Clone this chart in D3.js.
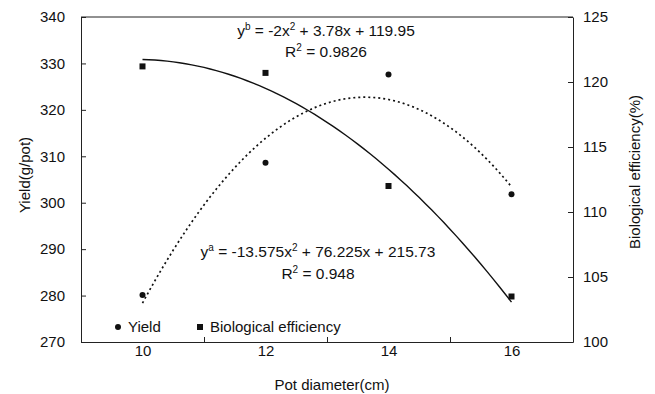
<!DOCTYPE html>
<html><head><meta charset="utf-8">
<script src="https://cdn.jsdelivr.net/npm/d3@7"></script>
<style>body{margin:0;background:#fff} text{font-family:"Liberation Sans",Arial,sans-serif;fill:#111}</style>
</head><body><svg id="c" width="655" height="394"></svg>
<script>
const diameters = [10, 12, 14, 16];
const yieldValues = [280.1, 308.6, 327.6, 301.8];
const bioEfficiency = [121.2, 120.7, 112.0, 103.5];
// trendline coefficients as printed on the chart (x = category index 1..4)
const yieldFit = [-13.575, 76.225, 215.73];
const bioFit = [-2, 3.78, 119.95];
const xLabels = [10, 12, 14, 16];
const xTickMarks = [9, 11, 13, 15, 17];
const leftTicks = [270, 280, 290, 300, 310, 320, 330, 340];
const rightTicks = [100, 105, 110, 115, 120, 125];

const svg = d3.select("#c");
const W = 655, H = 394;
const L = 81, R = 573, T = 17, B = 342;
const FS = 15;

const x = d3.scaleLinear().domain([9, 17]).range([L, R]);
const yL = d3.scaleLinear().domain([270, 340]).range([B, T]);
const yR = d3.scaleLinear().domain([100, 125]).range([B, T]);

svg.append("rect").attr("width", W).attr("height", H).attr("fill", "#fff");

// frame top
svg.append("line").attr("x1", L).attr("x2", R).attr("y1", T).attr("y2", T).attr("stroke", "#222").attr("stroke-width", 1);

function styleAxis(g) {
  g.selectAll("path.domain").attr("stroke", "#222");
  g.selectAll(".tick line").attr("stroke", "#222");
  g.selectAll("text").attr("font-size", FS).attr("font-family", '"Liberation Sans",Arial,sans-serif').attr("fill", "#111");
}

const gl = svg.append("g").attr("transform", `translate(${L},0)`)
  .call(d3.axisLeft(yL).tickValues(leftTicks).tickSizeInner(-5).tickSizeOuter(0).tickPadding(16).tickFormat(d3.format("d")));
styleAxis(gl);

const gr = svg.append("g").attr("transform", `translate(${R},0)`)
  .call(d3.axisRight(yR).tickValues(rightTicks).tickSizeInner(-5).tickSizeOuter(0).tickPadding(10).tickFormat(d3.format("d")));
styleAxis(gr);

const gb = svg.append("g").attr("transform", `translate(0,${B})`)
  .call(d3.axisBottom(x).tickValues(xTickMarks).tickSizeInner(-5).tickSizeOuter(0).tickFormat(""));
styleAxis(gb);

const gb2 = svg.append("g").attr("transform", `translate(0,${B})`)
  .call(d3.axisBottom(x).tickValues(xLabels).tickSize(0).tickPadding(3).tickFormat(d3.format("d")));
gb2.select("path.domain").remove();
styleAxis(gb2);

// axis titles
svg.append("text").attr("transform", `translate(30,175) rotate(-90)`).attr("text-anchor", "middle").attr("font-size", FS).text("Yield(g/pot)");
svg.append("text").attr("transform", `translate(640,172) rotate(-90)`).attr("text-anchor", "middle").attr("font-size", FS).text("Biological efficiency(%)");
svg.append("text").attr("x", 332).attr("y", 390).attr("text-anchor", "middle").attr("font-size", FS).text("Pot diameter(cm)");

// trendlines
const ts = d3.range(1, 4.0001, 0.05);
const poly = (c, t) => c[0] * t * t + c[1] * t + c[2];
const toDiam = t => diameters[0] + (t - 1) * (diameters[1] - diameters[0]);

svg.append("path").datum(ts)
  .attr("d", d3.line().x(t => x(toDiam(t))).y(t => yL(poly(yieldFit, t))).curve(d3.curveLinear))
  .attr("fill", "none").attr("stroke", "#111").attr("stroke-width", 1.7).attr("stroke-dasharray", "2,3");

svg.append("path").datum(ts)
  .attr("d", d3.line().x(t => x(toDiam(t))).y(t => yR(poly(bioFit, t))).curve(d3.curveLinear))
  .attr("fill", "none").attr("stroke", "#111").attr("stroke-width", 1.4);

// points
svg.selectAll("circle.yield").data(diameters).enter().append("circle")
  .attr("class", "yield").attr("cx", d => x(d)).attr("cy", (d, i) => yL(yieldValues[i])).attr("r", 3).attr("fill", "#111");
svg.selectAll("rect.bio").data(diameters).enter().append("rect")
  .attr("class", "bio").attr("x", d => x(d) - 3).attr("y", (d, i) => yR(bioEfficiency[i]) - 3).attr("width", 6).attr("height", 6).attr("fill", "#111");

// equations
function eq(cx, cy, parts) {
  const t = svg.append("text").attr("x", cx).attr("y", cy).attr("text-anchor", "middle").attr("font-size", 15.5);
  let up = false;
  parts.forEach(p => {
    if (p.sup) {
      t.append("tspan").attr("dy", -6).attr("font-size", 10).text(p.s);
      up = true;
    } else {
      t.append("tspan").attr("dy", up ? 6 : 0).text(p.s);
      up = false;
    }
  });
}
eq(326, 36, [{s: "y"}, {s: "b", sup: true}, {s: " = -2x"}, {s: "2", sup: true}, {s: " + 3.78x + 119.95"}]);
eq(326, 57, [{s: "R"}, {s: "2", sup: true}, {s: " = 0.9826"}]);
eq(318, 257, [{s: "y"}, {s: "a", sup: true}, {s: " = -13.575x"}, {s: "2", sup: true}, {s: " + 76.225x + 215.73"}]);
eq(318, 279, [{s: "R"}, {s: "2", sup: true}, {s: " = 0.948"}]);

// legend
svg.append("circle").attr("cx", 118).attr("cy", 327).attr("r", 3).attr("fill", "#111");
svg.append("text").attr("x", 128).attr("y", 332).attr("font-size", FS).text("Yield");
svg.append("rect").attr("x", 197).attr("y", 324).attr("width", 6).attr("height", 6).attr("fill", "#111");
svg.append("text").attr("x", 210).attr("y", 332).attr("font-size", FS).text("Biological efficiency");
</script></body></html>
